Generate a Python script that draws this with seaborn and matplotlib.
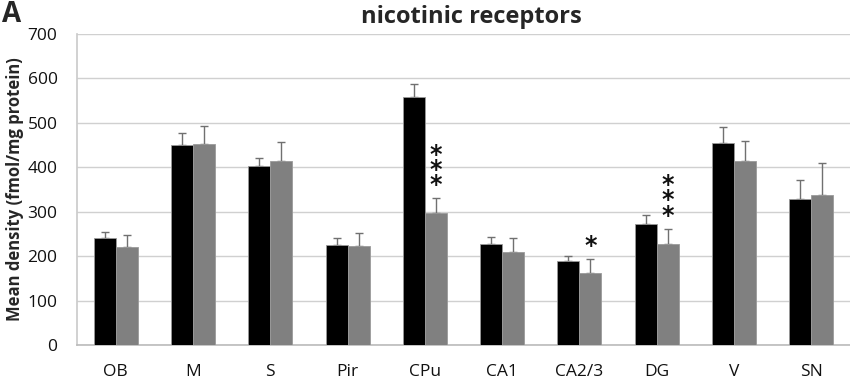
import matplotlib
matplotlib.use("Agg")
import matplotlib.pyplot as plt
import seaborn as sns
import pandas as pd
import numpy as np

regions = ["OB", "M", "S", "Pir", "CPu", "CA1", "CA2/3", "DG", "V", "SN"]
ctrl = [240, 450, 402, 226, 558, 228, 190, 272, 455, 328]
ctrl_err = [15, 27, 18, 14, 30, 15, 10, 20, 35, 44]
treat = [220, 452, 415, 223, 297, 210, 162, 228, 415, 337]
treat_err = [27, 41, 43, 30, 33, 30, 31, 34, 45, 73]
stars = {"CPu": "*\n*\n*", "CA2/3": "*", "DG": "*\n*\n*"}

sns.set_theme(style="white")
plt.rcParams['font.family'] = ['Open Sans', 'DejaVu Sans']

df = pd.DataFrame({
    "region": regions * 2,
    "value": ctrl + treat,
    "group": ["ctrl"] * len(regions) + ["treat"] * len(regions),
})

fig = plt.figure(figsize=(8.5, 3.83), dpi=100)
ax = fig.add_axes([77/850, 1 - 345/383, (850-77)/850, (345-34)/383])
sns.barplot(data=df, x="region", y="value", hue="group", order=regions,
            palette={"ctrl": "#000000", "treat": "#808080"}, width=0.57,
            errorbar=None, edgecolor="#9a9a9a", linewidth=0.6, ax=ax, legend=False, zorder=3)

c_bars = list(ax.containers[0])
t_bars = list(ax.containers[1])
for i, p in enumerate(c_bars):
    x = p.get_x() + p.get_width()/2
    ax.errorbar(x, ctrl[i], yerr=[[0], [ctrl_err[i]]], fmt="none", ecolor="#707070",
                elinewidth=1, capsize=3, capthick=1, zorder=2)
for i, p in enumerate(t_bars):
    x = p.get_x() + p.get_width()/2
    ax.errorbar(x, treat[i], yerr=[[0], [treat_err[i]]], fmt="none", ecolor="#707070",
                elinewidth=1, capsize=3, capthick=1, zorder=2)
    r = regions[i]
    if r in stars:
        ax.text(x, treat[i] + treat_err[i] + 2, stars[r], ha="center", va="bottom",
                fontsize=17, fontweight="bold", linespacing=0.55, color="#111111",
                family="DejaVu Sans")

ax.set_ylim(0, 700)
ax.set_xlim(-0.5, len(regions) - 0.5)
ax.set_yticks(range(0, 701, 100))
ax.yaxis.grid(True, color="#d0d0d0", linewidth=1)
ax.set_axisbelow(True)
ax.tick_params(axis="both", length=0, labelsize=12.5, colors="#111111")
ax.tick_params(axis="x", pad=14)
ax.tick_params(axis="y", pad=14)
ax.set_xlabel("")
ax.set_ylabel("Mean density (fmol/mg protein)", fontsize=12, fontweight="bold")
ax.yaxis.set_label_coords(-53/773, 0.5)
for s in ["top", "right"]:
    ax.spines[s].set_visible(False)
ax.spines["left"].set_color("#cccccc")
ax.spines["bottom"].set_color("#bbbbbb")
ax.spines["bottom"].set_linewidth(1.2)

fig.text(471/850, 1 - 17/383, "nicotinic receptors", ha="center", va="center",
         fontsize=17, fontweight="bold")
fig.text(2/850, 1 - 15/383, "A", ha="left", va="center", fontsize=20, fontweight="bold")

fig.savefig("out.png", dpi=100)
